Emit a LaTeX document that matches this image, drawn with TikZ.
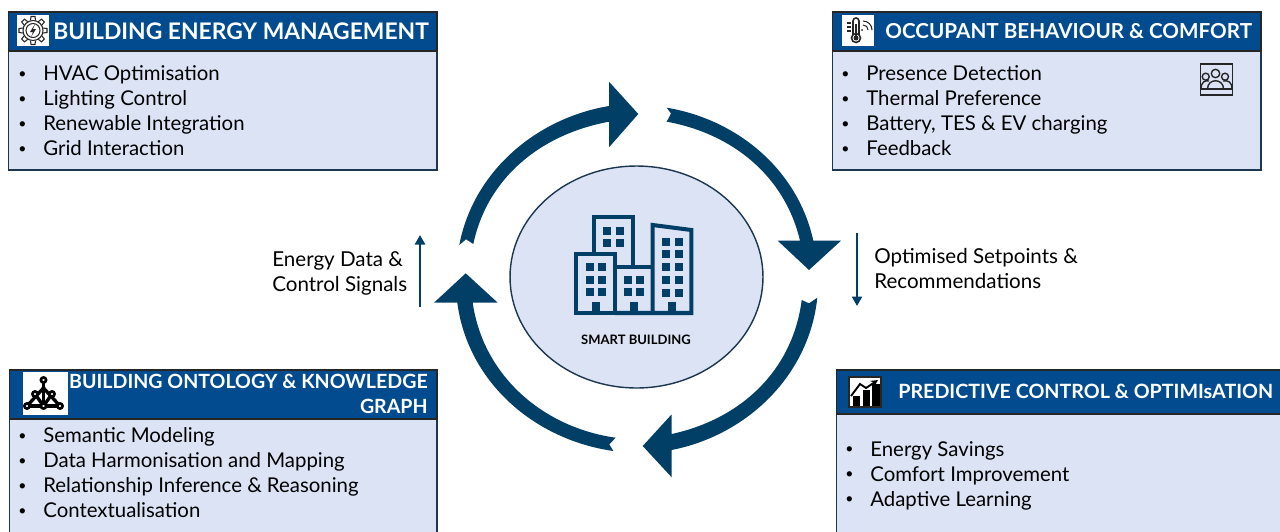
\documentclass[tikz,border=0pt]{standalone}
\usepackage{fontspec}
\usetikzlibrary{arrows.meta,shapes.geometric}
\setmainfont{Lato}
\definecolor{navyring}{HTML}{023F66}
\definecolor{headblue}{HTML}{014B8E}
\definecolor{bodyblue}{HTML}{DBE3F4}
\definecolor{edgedark}{HTML}{1C3650}
\newcommand{\bitem}[1]{\makebox[0.52cm][l]{\hspace{0.02cm}\raisebox{0.25ex}{\fontsize{8pt}{8pt}\selectfont\textbullet}}#1}
\tikzset{
	bodybox/.style={draw=edgedark,line width=1pt,fill=bodyblue,anchor=north west,minimum width=8.58cm,inner sep=0pt},
	headbox/.style={draw=black!85,line width=1pt,fill=headblue,anchor=north west,minimum width=8.58cm,inner sep=0pt},
	headtext/.style={text=white,font=\fontsize{11.75pt}{14pt}\selectfont\bfseries,inner sep=0pt},
	listtext/.style={anchor=west,align=left,inner sep=0pt,font=\fontsize{11.6pt}{14.23pt}\selectfont},
	sidetext/.style={anchor=west,align=left,inner sep=0pt,font=\fontsize{11.7pt}{14.23pt}\selectfont},
	iconbg/.style={fill=white},
	iconline/.style={draw=black!85,line width=0.6pt},
	ringarrow/.style={fill=navyring},
	flowarrow/.style={draw=navyring,line width=1.4pt,-{Triangle[length=1.9mm,width=2mm]}},
	towerline/.style={draw=navyring,line width=2.3pt,fill=none,line join=miter},
	towerpane/.style={fill=navyring}
}
\begin{document}
\begin{tikzpicture}[x=0.02cm,y=-0.02cm]
	\useasboundingbox (0,0) rectangle (1280,531);
	\clip (0,0) rectangle (1280,531);
	% boxes
	\node[bodybox,minimum height=3.16cm] (energybody) at (7.5,11) {};
	\node[headbox,minimum height=0.78cm] (energyhead) at (7.5,11) {};
	\node[bodybox,minimum height=3.16cm] (occupantbody) at (831.5,11) {};
	\node[headbox,minimum height=0.78cm] (occupanthead) at (831.5,11) {};
	\node[bodybox,minimum width=8.56cm,minimum height=3.6cm] (ontologybody) at (8.5,369) {};
	\node[headbox,minimum width=8.56cm,minimum height=0.98cm] (ontologyhead) at (8.5,369) {};
	\node[bodybox,minimum width=9.4cm,minimum height=3.6cm] (predictbody) at (835.5,369) {};
	\node[headbox,minimum width=9.4cm,minimum height=0.88cm] (predicthead) at (835.5,369) {};
	% titles
	\node[headtext,anchor=west,font=\fontsize{13pt}{14pt}\selectfont\bfseries] (energytitle) at (53,31) {BUILDING ENERGY MANAGEMENT};
	\node[headtext,anchor=west] (occupanttitle) at (885,31) {OCCUPANT BEHAVIOUR \& COMFORT};
	\node[headtext,anchor=north east,align=right,font=\fontsize{11.15pt}{14.2pt}\selectfont\bfseries] (ontologytitle) at (428,374) {BUILDING ONTOLOGY \& KNOWLEDGE\\GRAPH};
	\node[headtext,anchor=west,font=\fontsize{11.2pt}{14pt}\selectfont\bfseries] (predicttitle) at (898,391) {PREDICTIVE CONTROL \& OPTIMIsATION};
	% lists
	\node[listtext] (energylist) at (17,110.7) {\bitem{HVAC Optimisation}\\\bitem{Lighting Control}\\\bitem{Renewable Integration}\\\bitem{Grid Interaction}};
	\node[listtext] (occupantlist) at (840,110.7) {\bitem{Presence Detection}\\\bitem{Thermal Preference}\\\bitem{Battery, TES \& EV charging}\\\bitem{Feedback}};
	\node[listtext] (ontologylist) at (17,472.7) {\bitem{Semantic Modeling}\\\bitem{Data Harmonisation and Mapping}\\\bitem{Relationship Inference \& Reasoning}\\\bitem{Contextualisation}};
	\node[listtext] (predictlist) at (844,475.5) {\bitem{Energy Savings}\\\bitem{Comfort Improvement}\\\bitem{Adaptive Learning}};
	% centre
	\node[draw=edgedark,line width=0.8pt,fill=bodyblue,ellipse,minimum width=5.06cm,minimum height=4.44cm,inner sep=0pt] (hub) at (636.5,277) {};
	\node[inner sep=0pt,font=\fontsize{7.4pt}{9pt}\selectfont\bfseries] (hublabel) at (636,340) {SMART BUILDING};
	% ring
	\fill[ringarrow] (459.3,245) .. controls (473.2,171.9) and (535.6,118.3) .. (609,106) -- (609,81.7) -- (638.3,114) -- (609,147.3) -- (609,121.7) .. controls (541.6,134.1) and (487.6,176.9) .. (473.3,244) -- (466,239.3) -- cycle;
	\fill[ringarrow] (666.7,107.7) .. controls (737.9,119.6) and (797.9,170.2) .. (813.3,240.7) -- (841,240.7) -- (809,270) -- (777.7,240.7) -- (800,240.7) .. controls (784.7,175.8) and (732.3,133.6) .. (666.7,121.7) -- (671,113.5) -- cycle;
	\fill[ringarrow] (817.3,297.7) .. controls (809.2,374.8) and (747.8,435) .. (671.7,450) -- (671.7,477.3) -- (642.7,446) -- (671.7,414.3) -- (671.7,434) .. controls (741.1,418.9) and (792.7,370.4) .. (801.7,300) -- (809,303.3) -- cycle;
	\fill[ringarrow] (613.3,451) .. controls (534.2,439.7) and (467.7,382) .. (457.3,302.7) -- (434,302.7) -- (465.7,273.3) -- (497.7,302.7) -- (472.7,302.7) .. controls (483.1,375.5) and (542.9,427.5) .. (615.7,437.7) -- (609.3,444.3) -- cycle;
	% towers
	\draw[towerline] (576.3,254) rectangle (615,313);
	\draw[towerline] (593.7,254) -- (593.7,217) -- (633,217) -- (633,267);
	\draw[towerline] (615,267) -- (652.7,267);
	\draw[towerline] (615,313) -- (691.3,313) -- (691.3,230) -- (652.7,225) -- (652.7,313);
	\foreach \col/\row in {0/0,1/0,0/1,1/1}
		\fill[towerpane] (603+13*\col,226.7+12.7*\row) rectangle +(8,8);
	\foreach \col/\row in {0/0,1/0,0/1,1/1,0/2,1/2}
		\fill[towerpane] (585.7+12.7*\col,262.7+12.8*\row) rectangle +(8,8);
	\foreach \col/\row in {0/0,1/0,0/1,1/1}
		\fill[towerpane] (623.7+12.7*\col,275.7+12.7*\row) rectangle +(8,8);
	\foreach \col in {0,1}
		\foreach \row in {0,1,2,3,4}
			\fill[towerpane] (662+13*\col,237.7+12.7*\row) rectangle +(8,8);
	\fill[towerpane] (592,301.7) rectangle (600,313);
	\fill[towerpane] (630,301.7) rectangle (638,313);
	\fill[towerpane] (668.3,301.7) rectangle (676.3,313);
	% side labels
	\coordinate (upstart) at (420,307);
	\coordinate (upend) at (420,235);
	\coordinate (downstart) at (857,233);
	\coordinate (downend) at (857,306);
	\draw[flowarrow] (upstart) -- (upend);
	\draw[flowarrow] (downstart) -- (downend);
	\node[sidetext] (inputlabel) at (272,273.5) {Energy Data \&\\Control Signals};
	\node[sidetext] (outputlabel) at (874,269) {Optimised Setpoints \&\\Recommendations};
	% gear icon
	\fill[iconbg] (17,15) rectangle (49,46);
	\foreach \ang in {0,45,...,315}
		\draw[iconline,shift={(33,30.5)},rotate=\ang] (-2.5,-10) -- (-2,-14) -- (2,-14) -- (2.5,-10);
	\draw[iconline] (33,30.5) circle[radius=10];
	\draw[iconline] (33,30.5) circle[radius=7];
	\fill[black!85] (35,24) -- (30,32) -- (33,32) -- (31,37) -- (36,29) -- (33,29) -- cycle;
	% thermometer icon
	\fill[iconbg] (842,15) rectangle (874,46);
	\draw[iconline,line width=0.9pt] (853,35) -- (853,21) .. controls (853,17) and (859,17) .. (859,21) -- (859,35);
	\draw[iconline,line width=0.9pt] (856,38) circle[radius=4.5];
	\fill[black!85] (856,38) circle[radius=2.5];
	\draw[black!85,line width=1.1pt] (856,36) -- (856,24);
	\foreach \tick in {23,27,31}
		\draw[iconline] (847,\tick) -- (851,\tick);
	\fill[black!85] (862,30) circle[radius=1];
	\draw[iconline] (863,25) .. controls (866,25) and (868,27) .. (868,30);
	\draw[iconline] (863,21) .. controls (868,21) and (872,25) .. (872,30);
	% people icon
	\draw[iconline,line width=0.8pt,fill=bodyblue] (1200.7,64) rectangle (1232.3,95);
	\draw[iconline,line width=0.8pt] (1201,89) .. controls (1201,82) and (1205,80) .. (1209,81);
	\draw[iconline,line width=0.8pt] (1232,89) .. controls (1232,82) and (1228,80) .. (1223,81);
	\draw[iconline,line width=0.8pt] (1205.7,76.7) circle[radius=3.5];
	\draw[iconline,line width=0.8pt] (1225,76.7) circle[radius=3.5];
	\draw[iconline,line width=0.8pt] (1215.5,73.5) circle[radius=4.2];
	\draw[iconline,line width=0.8pt] (1207.5,89) .. controls (1207.5,78) and (1223.5,78) .. (1223.5,89) -- cycle;
	\draw[iconline,line width=0.8pt] (1201,89) -- (1232,89);
	% graph icon
	\fill[iconbg] (23,372) rectangle (68,415);
	\foreach \px/\py/\qx/\qy in {43.5/380/43.5/406,43.5/388/27/406,43.5/388/60/406,27/406/43.5/406,43.5/406/60/406,35/394/43.5/406,52/394/43.5/406}
		\draw[black,line width=1.9pt] (\px,\py) -- (\qx,\qy);
	\foreach \px/\py in {43.5/380,35/394,52/394,27/406,43.5/406,60/406}
		\draw[black,line width=1.5pt,fill=white] (\px,\py) circle[radius=2.6];
	% chart icon
	\draw[black!85,line width=0.7pt,fill=white] (849,377) rectangle (881,407);
	\fill[black] (853,396) rectangle (860,406);
	\fill[black] (863,390) rectangle (870,406);
	\fill[black] (872,384) rectangle (880,406);
	\draw[black,line width=1.1pt,-{Stealth[length=1.4mm,width=1.4mm]}] (851,396) -- (860,384) -- (866,388) -- (878,380);
\end{tikzpicture}
\end{document}
